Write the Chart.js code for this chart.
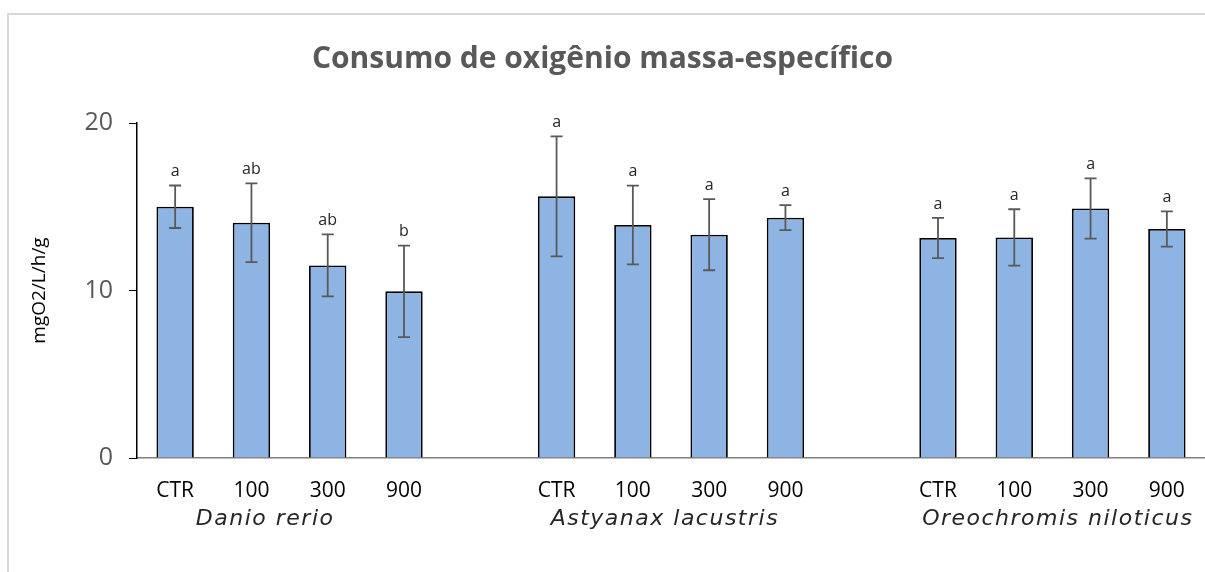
<!DOCTYPE html>
<html>
<head>
<meta charset="utf-8">
<script src="https://cdn.jsdelivr.net/npm/chart.js@4.4.0/dist/chart.umd.min.js"></script>
<style>
  html, body { margin: 0; padding: 0; background: #fff; }
  #wrap { position: relative; width: 1205px; height: 572px; }
  #frame { position: absolute; left: 7px; top: 13px; right: 0; bottom: 0;
           border-left: 2px solid #d9d9d9; border-top: 2px solid #d9d9d9; pointer-events: none; }
</style>
</head>
<body>
<div id="wrap">
  <canvas id="grafico" width="1205" height="572"></canvas>
  <div id="frame"></div>
</div>
<script>
// categorias (vazias separam as espécies)
const categorias = ['CTR', '100', '300', '900', '', 'CTR', '100', '300', '900', '', 'CTR', '100', '300', '900'];
// médias e erros
const medias = [15.0, 14.05, 11.5, 9.95, null, 15.62, 13.91, 13.33, 14.35, null, 13.13, 13.17, 14.9, 13.67];
const erros = [1.27, 2.35, 1.85, 2.73, null, 3.58, 2.35, 2.12, 0.75, null, 1.2, 1.68, 1.8, 1.05];
const letras = ['a', 'ab', 'ab', 'b', '', 'a', 'a', 'a', 'a', '', 'a', 'a', 'a', 'a'];
// nomes das espécies e posição (índice da categoria)
const especies = ['Danio rerio', 'Astyanax lacustris', 'Oreochromis niloticus'];
const posEspecies = [1.18, 6.42, 11.57];
const yTicks = [0, 10, 20];

// barras de erro + letras + nomes das espécies
const errorBars = {
  id: 'errorBars',
  afterDatasetsDraw(chart) {
    const ctx = chart.ctx;
    const meta = chart.getDatasetMeta(0);
    const y = chart.scales.y;
    ctx.save();
    medias.forEach((m, i) => {
      if (m === null) return;
      const x = meta.data[i].x;
      const top = y.getPixelForValue(m + erros[i]);
      const bot = y.getPixelForValue(m - erros[i]);
      ctx.strokeStyle = '#595959';
      ctx.lineWidth = 1.8;
      ctx.beginPath();
      ctx.moveTo(x, top); ctx.lineTo(x, bot);
      ctx.moveTo(x - 6, top); ctx.lineTo(x + 6, top);
      ctx.moveTo(x - 6, bot); ctx.lineTo(x + 6, bot);
      ctx.stroke();
      ctx.fillStyle = '#262626';
      ctx.font = '16px "Open Sans", sans-serif';
      ctx.textAlign = 'center';
      ctx.textBaseline = 'bottom';
      ctx.fillText(letras[i], x, top - 6);
    });
    const xs = chart.scales.x;
    ctx.fillStyle = '#262626';
    ctx.font = 'italic 22px "DejaVu Sans", sans-serif';
    ctx.letterSpacing = '1.5px';
    ctx.textBaseline = 'alphabetic';
    especies.forEach((nome, k) => {
      ctx.fillText(nome, xs.getPixelForValue(posEspecies[k]), 525);
    });
    ctx.restore();
  }
};

new Chart(document.getElementById('grafico'), {
  type: 'bar',
  data: {
    labels: categorias,
    datasets: [{
      data: medias,
      backgroundColor: '#8eb4e3',
      borderColor: '#000000',
      borderWidth: 1.8,
      categoryPercentage: 1,
      barPercentage: 0.49
    }]
  },
  options: {
    responsive: false,
    animation: false,
    layout: { padding: 0 },
    plugins: {
      legend: { display: false },
      tooltip: { enabled: false },
      title: {
        display: true,
        text: 'Consumo de oxigênio massa-específico',
        color: '#595959',
        font: { family: '"Open Sans", sans-serif', size: 30, weight: 'bold' },
        padding: { top: 41, bottom: 46 }
      }
    },
    scales: {
      x: {
        grid: { display: false, drawTicks: false },
        border: { color: '#7f7f7f', width: 1.5 },
        ticks: {
          color: '#000000',
          font: { family: '"Open Sans", sans-serif', size: 21 },
          padding: 20,
          autoSkip: false,
          maxRotation: 0
        },
        afterFit(scale) { scale.height = 114; }
      },
      y: {
        min: 0,
        max: 20,
        afterBuildTicks(scale) { scale.ticks = yTicks.map(v => ({ value: v })); },
        grid: { drawOnChartArea: false, drawTicks: true, tickLength: 8, color: '#000000' },
        border: { color: '#000000', width: 1.5 },
        ticks: {
          color: '#595959',
          font: { family: '"Open Sans", sans-serif', size: 25 },
          padding: 16
        },
        title: {
          display: true,
          text: 'mgO2/L/h/g',
          color: '#000000',
          font: { family: '"Open Sans", sans-serif', size: 19 },
          padding: { top: 28, bottom: 0 }
        },
        afterFit(scale) { scale.width = 137; }
      }
    }
  },
  plugins: [errorBars]
});
</script>
</body>
</html>
